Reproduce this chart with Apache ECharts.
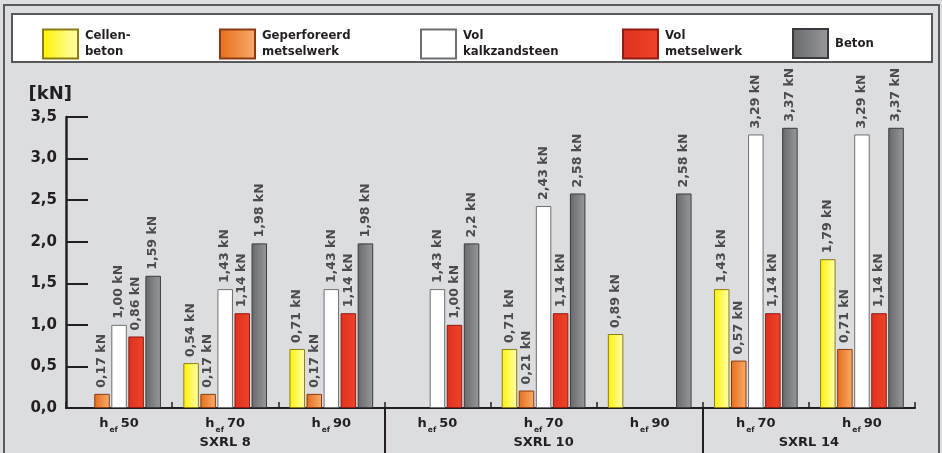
<!DOCTYPE html>
<html><head><meta charset="utf-8">
<script src="https://cdn.jsdelivr.net/npm/echarts@6/dist/echarts.min.js"></script>
<style>html,body{margin:0;padding:0;background:#dcdde0}#c{width:942px;height:453px}</style>
</head><body><div id="c"></div>
<script>
// ---- data ----
const categories = ['50', '70', '90', '50', '70', '90', '70', '90'];   // h_ef values
const groupLabels = ['SXRL 8', 'SXRL 10', 'SXRL 14'];
const groupSizes = [3, 3, 2];
const seriesNames = ['Cellenbeton', 'Geperforeerd metselwerk', 'Vol kalkzandsteen', 'Vol metselwerk', 'Beton'];
const legendTexts = ['Cellen-\nbeton', 'Geperforeerd\nmetselwerk', 'Vol\nkalkzandsteen', 'Vol\nmetselwerk', 'Beton'];
const cellenbeton   = [null, 0.54, 0.71, null, 0.71, 0.89, 1.43, 1.79];
const geperforeerd  = [0.17, 0.17, 0.17, null, 0.21, null, 0.57, 0.71];
const kalkzandsteen = [1.00, 1.43, 1.43, 1.43, 2.43, null, 3.29, 3.29];
const metselwerk    = [0.86, 1.14, 1.14, 1.00, 1.14, null, 1.14, 1.14];
const beton         = [1.59, 1.98, 1.98, 1.98, 2.58, 2.58, 3.37, 3.37];
const betonLabelOverride = {3: '2,2 kN'};   // printed label differs from bar height
const yTicks = {min: 0, max: 3.5, interval: 0.5};

// ---- styles ----
const INK = '#231f20';
const BOLD = 'DejaVu Sans';
function grad(a, b) {
  return {type: 'linear', x: 0, y: 0, x2: 1, y2: 0, colorStops: [{offset: 0, color: a}, {offset: 1, color: b}]};
}
const styles = [
  {color: grad('#fff100', '#ffffb4'), borderColor: '#8c7d10'},
  {color: grad('#e66d1c', '#f8ad6a'), borderColor: '#8a3b12'},
  {color: '#ffffff', borderColor: '#6d6e70'},
  {color: grad('#e0301f', '#ee4428'), borderColor: '#8e1c12'},
  {color: grad('#68696d', '#98999c'), borderColor: '#3a3a3c'}
];
const dataSets = [cellenbeton, geperforeerd, kalkzandsteen, metselwerk, beton];
const overrides = [{}, {}, {}, {}, betonLabelOverride];

// group boundaries / centres in category units
const bounds = [], centres = [];
let acc = 0;
groupSizes.forEach((s, i) => {
  centres.push(acc + s / 2);
  acc += s;
  if (i < groupSizes.length - 1) bounds.push(acc);
});

const fmt = v => v.toFixed(2).replace('.', ',') + ' kN';

const series = dataSets.map((d, i) => ({
  name: seriesNames[i],
  type: 'bar',
  data: d,
  barWidth: 15.5,
  barGap: '10%',
  itemStyle: {color: styles[i].color, borderColor: styles[i].borderColor, borderWidth: 1},
  label: {
    show: true, position: 'top', rotate: 90, align: 'left', verticalAlign: 'middle', distance: 6,
    fontFamily: BOLD, fontWeight: 'bold', fontSize: 12.5, color: '#4b4b4d',
    formatter: p => overrides[i][p.dataIndex] || fmt(p.value)
  }
}));

const legendLefts = [37, 214, 415, 617, 787];
const legends = seriesNames.map((n, i) => ({
  data: [n], left: legendLefts[i], top: 23, icon: 'rect',
  itemWidth: 35, itemHeight: 29, selectedMode: false,
  formatter: () => legendTexts[i],
  textStyle: {fontFamily: "'Liberation Sans Narrow', 'DejaVu Sans Condensed', sans-serif", fontWeight: 'bold', fontSize: 13, lineHeight: 16, color: INK, padding: [0, 0, 0, 2]}
}));

const chart = echarts.init(document.getElementById('c'), null, {renderer: 'canvas'});
chart.setOption({
  backgroundColor: '#dcdde0',
  animation: false,
  graphic: [
    {type: 'rect', z: -5, silent: true, shape: {x: 4, y: 5, width: 935, height: 460}, style: {fill: 'none', stroke: '#58595b', lineWidth: 2}},
    {type: 'rect', z: -5, silent: true, shape: {x: 12, y: 14, width: 920, height: 48}, style: {fill: '#ffffff', stroke: '#58595b', lineWidth: 2}}
  ],
  legend: legends,
  grid: {left: 66, right: 27, top: 117, bottom: 45},
  xAxis: [
    {
      type: 'category', data: categories,
      axisLine: {lineStyle: {color: INK, width: 2}},
      axisTick: {show: true, inside: true, interval: 0, length: 6, lineStyle: {color: INK, width: 1.5}},
      axisLabel: {
        interval: 0, margin: 6, color: INK,
        formatter: v => '{h|h}{ef|ef}{n|' + v + '}',
        rich: {
          h: {fontFamily: BOLD, fontWeight: 'bold', fontSize: 13, lineHeight: 20, color: INK},
          ef: {fontFamily: BOLD, fontWeight: 'bold', fontSize: 7.5, lineHeight: 10, verticalAlign: 'bottom', color: INK, padding: [0, 3, 0, 1]},
          n: {fontFamily: BOLD, fontWeight: 'bold', fontSize: 13, lineHeight: 20, color: INK}
        }
      }
    },
    {
      type: 'value', min: 0, max: acc, position: 'bottom',
      axisLine: {show: false}, splitLine: {show: false},
      axisTick: {show: true, customValues: bounds, length: 50, lineStyle: {color: INK, width: 2}},
      axisLabel: {
        customValues: centres, margin: 28, color: INK,
        fontFamily: BOLD, fontWeight: 'bold', fontSize: 13,
        formatter: v => groupLabels[centres.indexOf(v)] || ''
      }
    }
  ],
  yAxis: {
    type: 'value', min: yTicks.min, max: yTicks.max, interval: yTicks.interval,
    name: '[kN]', nameLocation: 'end', nameGap: 14,
    nameTextStyle: {fontFamily: BOLD, fontWeight: 'bold', fontSize: 18, color: INK, align: 'right', padding: [0, -6, 0, 0]},
    axisLine: {show: true, lineStyle: {color: INK, width: 2.5}},
    axisTick: {show: true, inside: true, length: 22, lineStyle: {color: INK, width: 2}},
    splitLine: {show: false},
    axisLabel: {
      margin: 9, color: INK, fontFamily: BOLD, fontWeight: 'bold', fontSize: 15, padding: [5, 0, 0, 0],
      formatter: v => v.toFixed(1).replace('.', ',')
    }
  },
  series: series
});
</script></body></html>
